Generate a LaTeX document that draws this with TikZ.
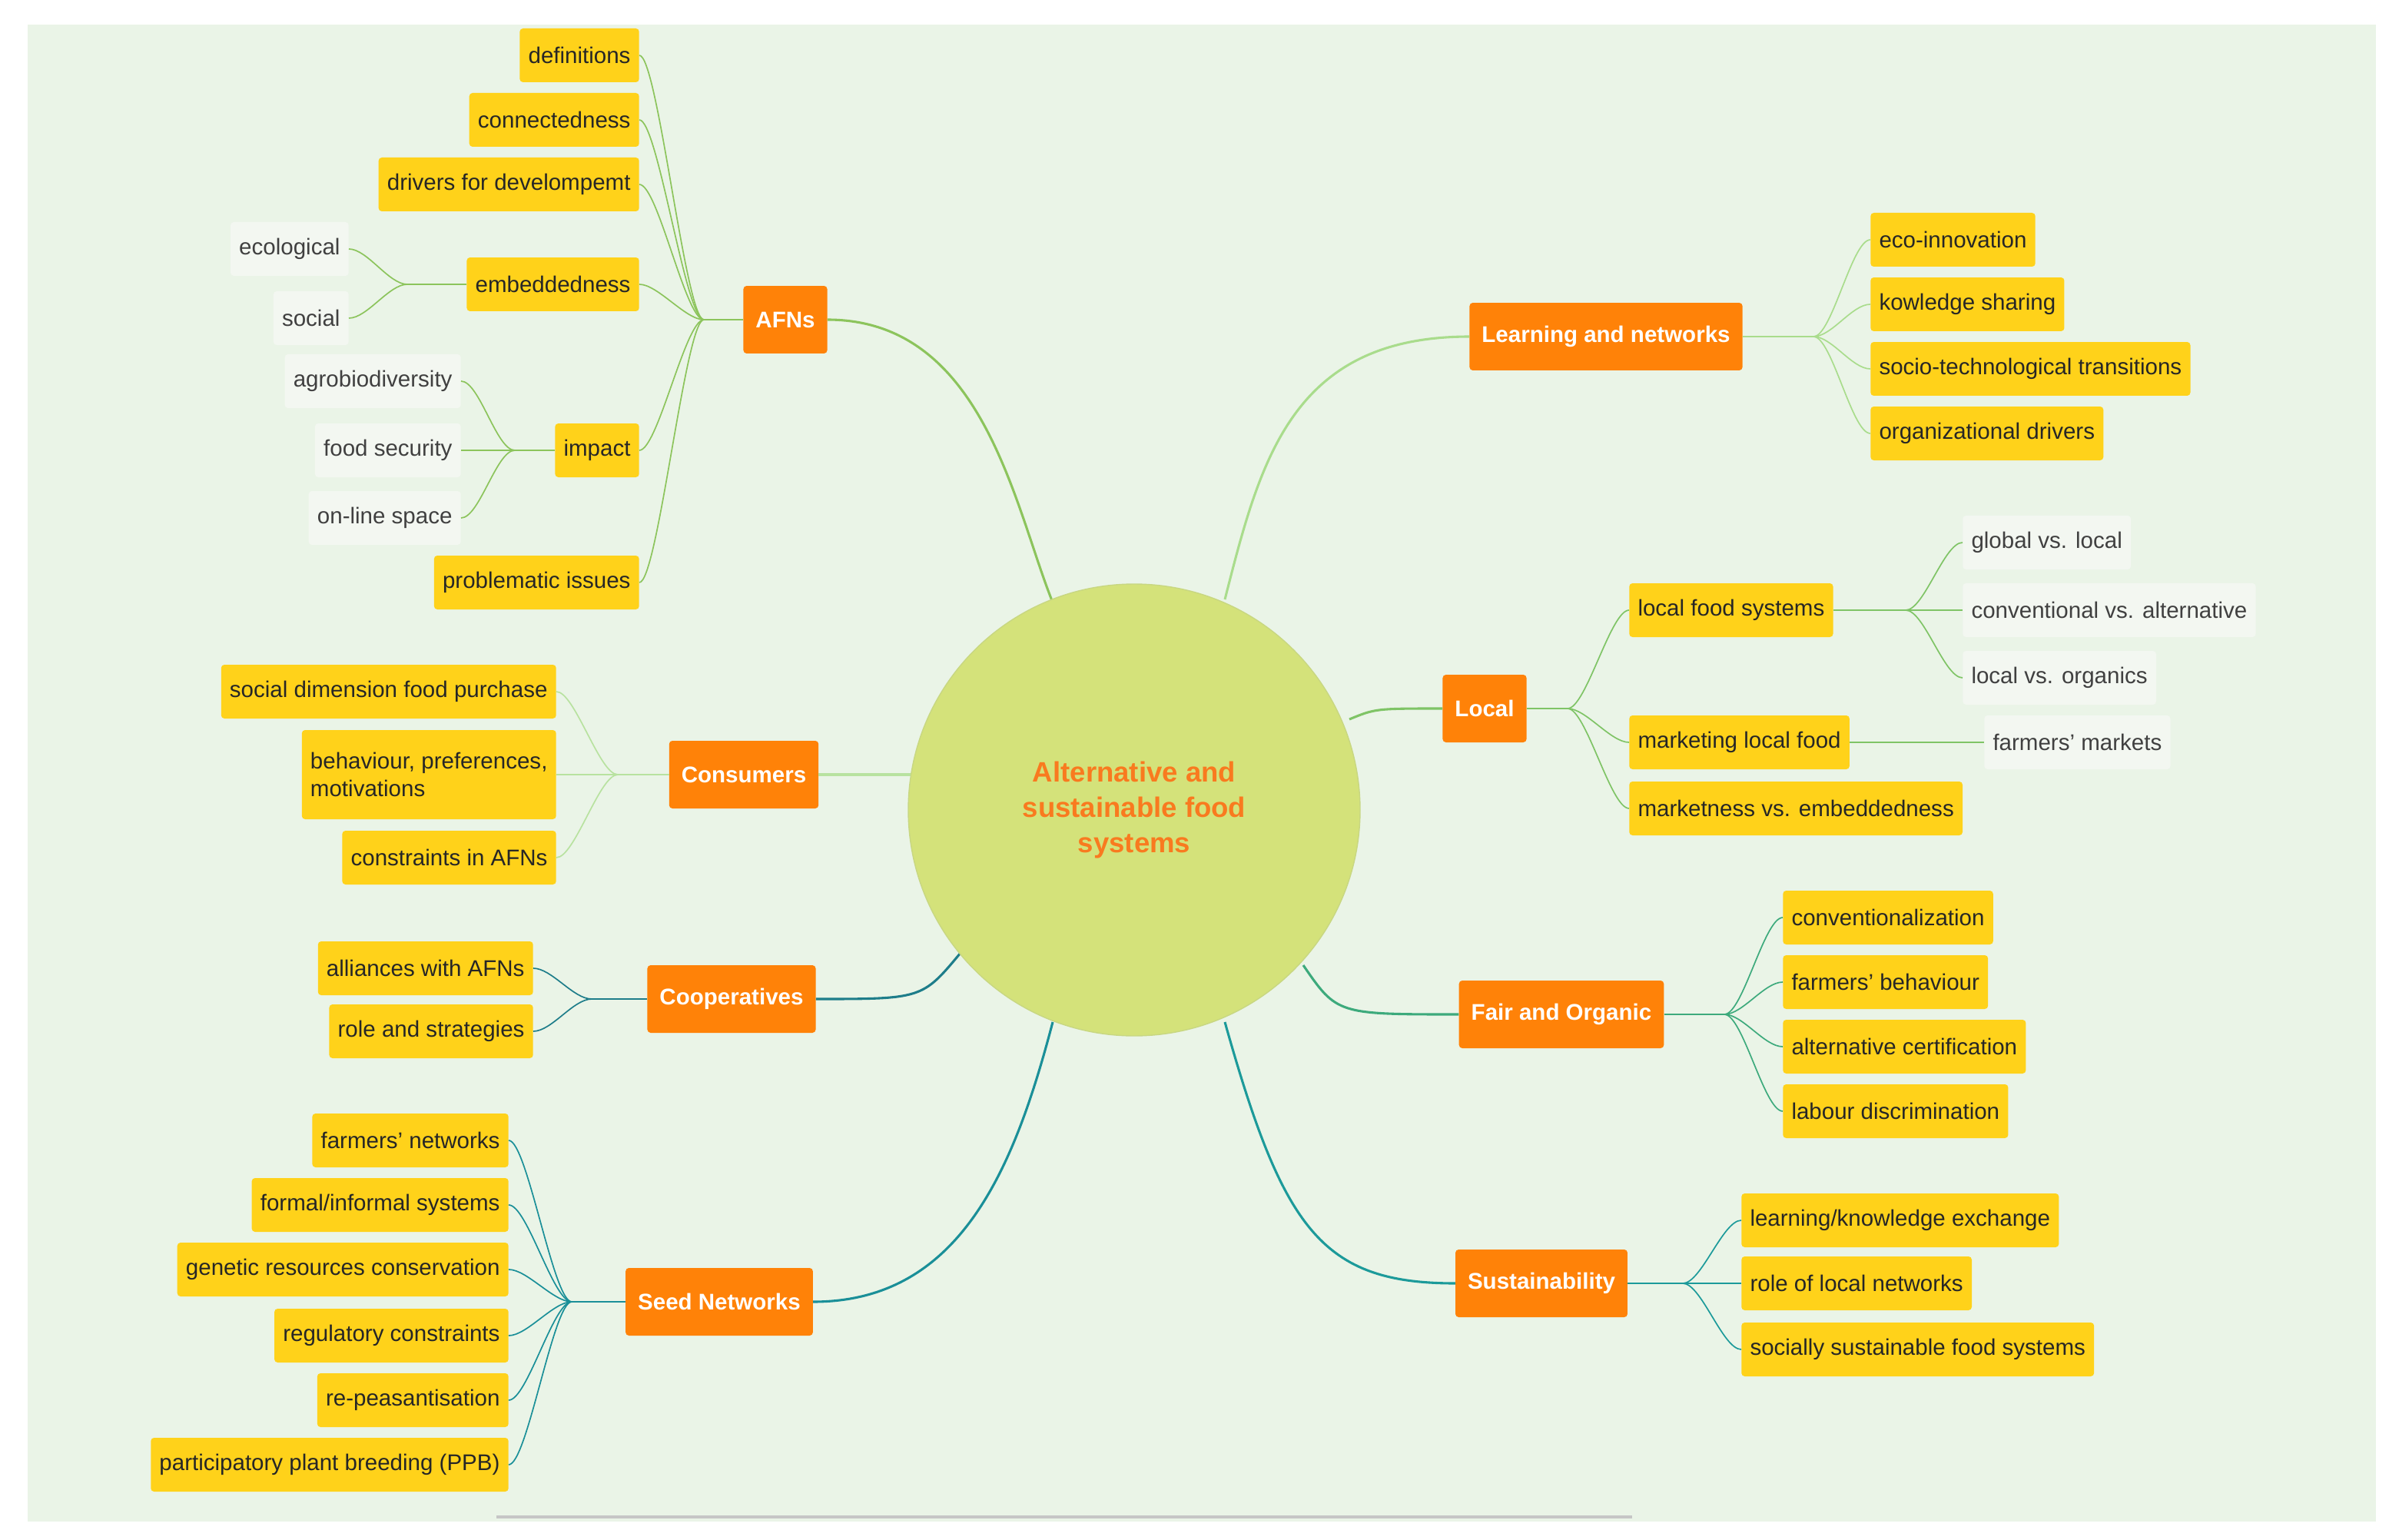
\documentclass[tikz,border=0pt]{standalone}
\usepackage{fontspec}
\setmainfont{Liberation Sans}
\begin{document}
\begin{tikzpicture}[x=0.05cm,y=-0.05cm,
  leaf/.style={fill=leafY,rounded corners=3pt,minimum height=1.75cm,inner xsep=0.28cm,font=\fontsize{21}{25}\selectfont,text=black!85},
  sub/.style={fill=subF,rounded corners=3pt,minimum height=1.75cm,inner xsep=0.28cm,font=\fontsize{21}{25}\selectfont,text=black!75},
  main/.style={fill=mainO,rounded corners=3pt,minimum height=2.2cm,inner xsep=0.4cm,font=\fontsize{21}{25}\selectfont\bfseries,text=white},
  br/.style={line width=2.2pt},
  lf/.style={line width=1.2pt,to path={.. controls +(-12,0) and +(12,0) .. (\tikztotarget)}},
  rf/.style={line width=1.2pt,to path={.. controls +(12,0) and +(-12,0) .. (\tikztotarget)}}]
\definecolor{leafY}{HTML}{FFD21A}
\definecolor{subF}{HTML}{F3F7F1}
\definecolor{mainO}{HTML}{FF8208}
\definecolor{bg}{HTML}{EAF4E7}
\definecolor{cA}{HTML}{8CC45C}
\definecolor{cL}{HTML}{A9DC8C}
\definecolor{cLo}{HTML}{7FC466}
\definecolor{cC}{HTML}{B8E2A0}
\definecolor{cCo}{HTML}{1E7D8A}
\definecolor{cS}{HTML}{1A8F98}
\definecolor{cF}{HTML}{3DAA7C}
\definecolor{cSu}{HTML}{1C9A9A}
\useasboundingbox (0,0) rectangle (1561,1002);
\fill[bg] (18,16) rectangle (1546,990);
\draw[gray!45,line width=2.5pt] (323,987) -- (1062,987);
% main nodes
\node[main] (afn) at (511,208) {AFNs};
\node[main] (cons) at (484,504) {Consumers};
\node[main] (coop) at (476,650) {Cooperatives};
\node[main] (seed) at (468,847) {Seed Networks};
\node[main] (learn) at (1045,219) {Learning and networks};
\node[main] (local) at (966,461) {Local};
\node[main] (fair) at (1016,660) {Fair and Organic};
\node[main] (sust) at (1003,835) {Sustainability};
% branches to centre
\coordinate (pA) at (685,392); \coordinate (pL) at (797,390); \coordinate (pLo) at (878,468);
\coordinate (pC) at (597,504); \coordinate (pCo) at (625,620); \coordinate (pS) at (685,665);
\coordinate (pF) at (848,628); \coordinate (pSu) at (797,665);
\draw[br,cA] (afn.east) .. controls (640,208) and (660,330) .. (pA);
\draw[br,cL] (pL) .. controls (820,300) and (840,219) .. (learn.west);
\draw[br,cLo] (pLo) .. controls (895,461) .. (local.west);
\draw[br,cC] (cons.east) -- (pC);
\draw[br,cCo] (coop.east) .. controls (600,650) .. (pCo);
\draw[br,cS] (seed.east) .. controls (625,847) and (660,760) .. (pS);
\draw[br,cF] (pF) .. controls (870,660) .. (fair.west);
\draw[br,cSu] (pSu) .. controls (835,800) and (860,835) .. (sust.west);
\node[circle,fill=yellow!50!green!45!white,fill={rgb,255:red,212;green,226;blue,122},draw={rgb,255:red,200;green,215;blue,130},line width=1pt,minimum size=14.7cm,align=center,text={rgb,255:red,249;green,122;blue,31},font=\fontsize{26}{33}\selectfont\bfseries] (ctr) at (738,527) {Alternative and\\sustainable food\\systems};
% AFN leaves
\node[leaf,anchor=east] (a1) at (416,36) {definitions};
\node[leaf,anchor=east] (a2) at (416,78) {connectedness};
\node[leaf,anchor=east] (a3) at (416,120) {drivers for develompemt};
\node[leaf,anchor=east] (a4) at (416,185) {embeddedness};
\node[leaf,anchor=east] (a5) at (416,293) {impact};
\node[leaf,anchor=east] (a6) at (416,379) {problematic issues};
\coordinate (hA) at (458,208);
\draw[lf,cA] (afn.west) -- (hA);
\foreach \n in {a1,a2,a3,a4,a5,a6} \draw[lf,cA] (hA) to (\n.east);
\node[sub,anchor=east] (e1) at (227,162) {ecological};
\node[sub,anchor=east] (e2) at (227,207) {social};
\coordinate (hE) at (265,185);
\draw[lf,cA] (a4.west) -- (hE);
\foreach \n in {e1,e2} \draw[lf,cA] (hE) to (\n.east);
\node[sub,anchor=east] (i1) at (300,248) {agrobiodiversity};
\node[sub,anchor=east] (i2) at (300,293) {food security};
\node[sub,anchor=east] (i3) at (300,337) {on-line space};
\coordinate (hI) at (335,293);
\draw[lf,cA] (a5.west) -- (hI);
\foreach \n in {i1,i2,i3} \draw[lf,cA] (hI) to (\n.east);
% Consumers
\node[leaf,anchor=east] (c1) at (362,450) {social dimension food purchase};
\node[leaf,anchor=east,align=left,minimum height=2.9cm] (c2) at (362,504) {behaviour, preferences,\\motivations};
\node[leaf,anchor=east] (c3) at (362,558) {constraints in AFNs};
\coordinate (hC) at (402,504);
\draw[lf,cC] (cons.west) -- (hC);
\foreach \n in {c1,c2,c3} \draw[lf,cC] (hC) to (\n.east);
% Cooperatives
\node[leaf,anchor=east] (o1) at (347,630) {alliances with AFNs};
\node[leaf,anchor=east] (o2) at (347,671) {role and strategies};
\coordinate (hO) at (385,650);
\draw[lf,cCo] (coop.west) -- (hO);
\foreach \n in {o1,o2} \draw[lf,cCo] (hO) to (\n.east);
% Seed
\node[leaf,anchor=east] (s1) at (331,742) {farmers' networks};
\node[leaf,anchor=east] (s2) at (331,784) {formal/informal systems};
\node[leaf,anchor=east] (s3) at (331,826) {genetic resources conservation};
\node[leaf,anchor=east] (s4) at (331,869) {regulatory constraints};
\node[leaf,anchor=east] (s5) at (331,911) {re-peasantisation};
\node[leaf,anchor=east] (s6) at (331,953) {participatory plant breeding (PPB)};
\coordinate (hS) at (372,847);
\draw[lf,cS] (seed.west) -- (hS);
\foreach \n in {s1,s2,s3,s4,s5,s6} \draw[lf,cS] (hS) to (\n.east);
% Learning
\node[leaf,anchor=west] (l1) at (1217,156) {eco-innovation};
\node[leaf,anchor=west] (l2) at (1217,198) {kowledge sharing};
\node[leaf,anchor=west] (l3) at (1217,240) {socio-technological transitions};
\node[leaf,anchor=west] (l4) at (1217,282) {organizational drivers};
\coordinate (hL) at (1180,219);
\draw[lf,cL] (learn.east) -- (hL);
\foreach \n in {l1,l2,l3,l4} \draw[rf,cL] (hL) to (\n.west);
% Local
\node[leaf,anchor=west] (m1) at (1060,397) {local food systems};
\node[leaf,anchor=west] (m2) at (1060,483) {marketing local food};
\node[leaf,anchor=west] (m3) at (1060,526) {marketness vs. embeddedness};
\coordinate (hM) at (1020,461);
\draw[lf,cLo] (local.east) -- (hM);
\foreach \n in {m1,m2,m3} \draw[rf,cLo] (hM) to (\n.west);
\node[sub,anchor=west] (g1) at (1277,353) {global vs. local};
\node[sub,anchor=west] (g2) at (1277,397) {conventional vs. alternative};
\node[sub,anchor=west] (g3) at (1277,441) {local vs. organics};
\coordinate (hG) at (1240,397);
\draw[lf,cLo] (m1.east) -- (hG);
\foreach \n in {g1,g2,g3} \draw[rf,cLo] (hG) to (\n.west);
\node[sub,anchor=west] (fm) at (1291,483) {farmers' markets};
\draw[lf,cLo] (m2.east) -- (fm.west);
% Fair
\node[leaf,anchor=west] (f1) at (1160,597) {conventionalization};
\node[leaf,anchor=west] (f2) at (1160,639) {farmers' behaviour};
\node[leaf,anchor=west] (f3) at (1160,681) {alternative certification};
\node[leaf,anchor=west] (f4) at (1160,723) {labour discrimination};
\coordinate (hF) at (1122,660);
\draw[lf,cF] (fair.east) -- (hF);
\foreach \n in {f1,f2,f3,f4} \draw[rf,cF] (hF) to (\n.west);
% Sustainability
\node[leaf,anchor=west] (u1) at (1133,794) {learning/knowledge exchange};
\node[leaf,anchor=west] (u2) at (1133,835) {role of local networks};
\node[leaf,anchor=west] (u3) at (1133,878) {socially sustainable food systems};
\coordinate (hU) at (1095,835);
\draw[lf,cSu] (sust.east) -- (hU);
\foreach \n in {u1,u2,u3} \draw[rf,cSu] (hU) to (\n.west);
\end{tikzpicture}
\end{document}
